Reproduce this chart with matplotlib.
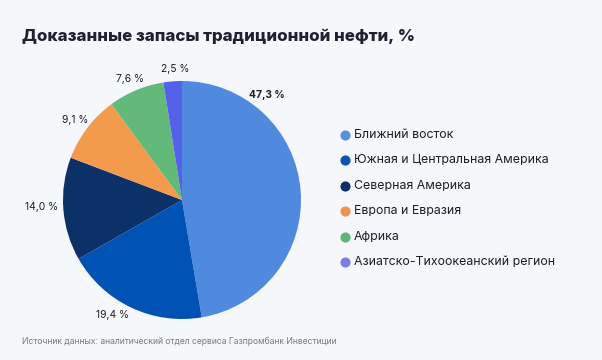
import matplotlib.pyplot as plt

regions = ['Ближний восток', 'Южная и Центральная Америка', 'Северная Америка',
           'Европа и Евразия', 'Африка', 'Азиатско-Тихоокеанский регион']
shares = [47.3, 19.4, 14.0, 9.1, 7.6, 2.5]
share_labels = ['47,3 %', '19,4 %', '14,0 %', '9,1 %', '7,6 %', '2,5 %']

colors = ['#4f8adf', '#0052b5', '#0c3068', '#f39a4d', '#63b97a', '#5661ea']
dot_colors = ['#5a8fe0', '#0b55b0', '#0f2e63', '#f0934f', '#5db57a', '#7a7ee3']
# label positions, in pie radii from centre
label_pos = [(0.71, 0.88), (-0.58, -0.97), (-1.18, -0.06),
             (-0.90, 0.67), (-0.44, 1.02), (-0.06, 1.10)]

plt.rcParams['font.family'] = ['Inter', 'DejaVu Sans']
bg = '#f5f7fb'
W, H = 602, 360
fig = plt.figure(figsize=(W / 100, H / 100), dpi=100, facecolor=bg)

cx, cy, r = 182, 200, 119
ax = fig.add_axes([(cx - r) / W, (H - cy - r) / H, 2 * r / W, 2 * r / H])
ax.pie(shares, colors=colors, startangle=90, counterclock=False, radius=1,
       wedgeprops=dict(linewidth=0))
ax.set_xlim(-1, 1)
ax.set_ylim(-1, 1)
ax.set_facecolor('none')
ax.set_aspect('auto')
ax.axis('off')

for i, (lab, (lx, ly)) in enumerate(zip(share_labels, label_pos)):
    ax.text(lx, ly, lab, ha='center', va='center', fontsize=7.4, color='#1e1e28',
            fontweight='bold' if i == 0 else 'normal', clip_on=False)

fig.text(22 / W, 1 - 36 / H, 'Доказанные запасы традиционной нефти, %',
         fontsize=12.1, fontweight='heavy', color='#1f2030', va='center')

for i, (name, c) in enumerate(zip(regions, dot_colors)):
    y = 1 - (135 + i * 25.4) / H
    fig.lines.append(plt.Line2D([345 / W], [y], marker='o', markersize=6.3,
                                color=c, transform=fig.transFigure))
    fig.text(354 / W, y, name, fontsize=8.9, color='#1e1e28', va='center')

fig.text(22 / W, 1 - 341 / H,
         'Источник данных: аналитический отдел сервиса Газпромбанк Инвестиции',
         fontsize=6.2, color='#777a82', va='center')

fig.savefig('out.png', dpi=100, facecolor=bg)
